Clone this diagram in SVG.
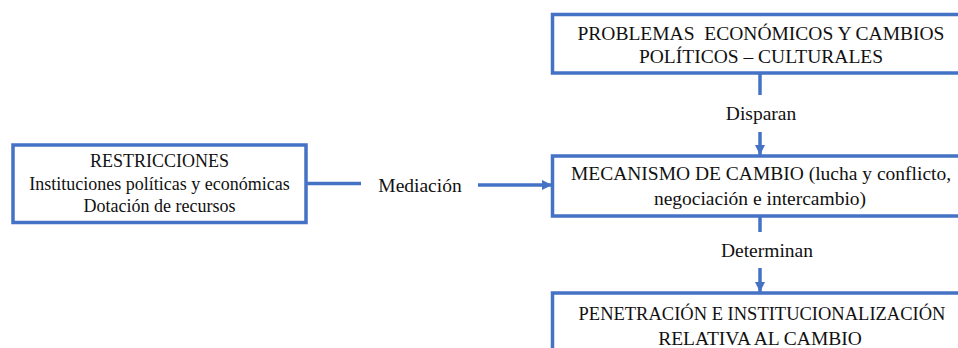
<svg xmlns="http://www.w3.org/2000/svg" width="958" height="348" viewBox="0 0 958 348">
  <style>
    .box { fill: #ffffff; stroke: #4472C4; stroke-width: 3.5; }
    .link { fill: none; stroke: #4472C4; stroke-width: 3.5; }
    text { font-family: 'Liberation Serif', 'Times New Roman', serif; fill: #111111; text-anchor: middle; white-space: pre; }
    .big { font-size: 19.5px; }
    .small { font-size: 18px; }
  </style>
  <defs>
    <marker id="arrow" markerUnits="userSpaceOnUse" markerWidth="12" markerHeight="12" viewBox="0 0 12 12" refX="11" refY="6" orient="auto">
      <path d="M1,1 L11,6 L1,11 Z" fill="#4472C4"/>
    </marker>
  </defs>

  <!-- connectors -->
  <g id="connectors">
    <line class="link" x1="306" y1="183.5" x2="361" y2="183.5"/>
    <line class="link" x1="478" y1="185" x2="552" y2="185" marker-end="url(#arrow)"/>
    <line class="link" x1="760" y1="73" x2="760" y2="95"/>
    <line class="link" x1="760" y1="132" x2="760" y2="155" marker-end="url(#arrow)"/>
    <line class="link" x1="760" y1="216" x2="760" y2="232"/>
    <line class="link" x1="760" y1="268" x2="760" y2="292" marker-end="url(#arrow)"/>
  </g>

  <!-- connector labels -->
  <g id="labels" font-family="Liberation Serif, serif">
    <text class="big" x="420" y="192">Mediación</text>
    <text class="big" x="761" y="120">Disparan</text>
    <text class="big" x="767" y="257">Determinan</text>
  </g>

  <g id="restricciones" font-family="Liberation Serif, serif">
    <rect class="box" x="13" y="145" width="293" height="77.5"/>
    <text class="small" x="159.5" y="167">RESTRICCIONES</text>
    <text class="small" x="159.5" y="190">Instituciones políticas y económicas</text>
    <text class="small" x="159.5" y="212">Dotación de recursos</text>
  </g>

  <g id="problemas" font-family="Liberation Serif, serif">
    <rect class="box" x="552.5" y="14.5" width="416" height="58.5"/>
    <text class="big" x="761" y="39.5" xml:space="preserve">PROBLEMAS  ECONÓMICOS Y CAMBIOS</text>
    <text class="big" x="761" y="63">POLÍTICOS – CULTURALES</text>
  </g>

  <g id="mecanismo" font-family="Liberation Serif, serif">
    <rect class="box" x="552.5" y="156" width="416" height="60"/>
    <text class="big" x="761" y="179.5">MECANISMO DE CAMBIO (lucha y conflicto,</text>
    <text class="big" x="760" y="205">negociación e intercambio)</text>
  </g>

  <g id="penetracion" font-family="Liberation Serif, serif">
    <rect class="box" x="552.5" y="293" width="416" height="70"/>
    <text class="big" x="762" y="320" font-size="18.5" style="font-size:18.5px">PENETRACIÓN E INSTITUCIONALIZACIÓN</text>
    <text class="big" x="760" y="344.5">RELATIVA AL CAMBIO</text>
  </g>
</svg>
